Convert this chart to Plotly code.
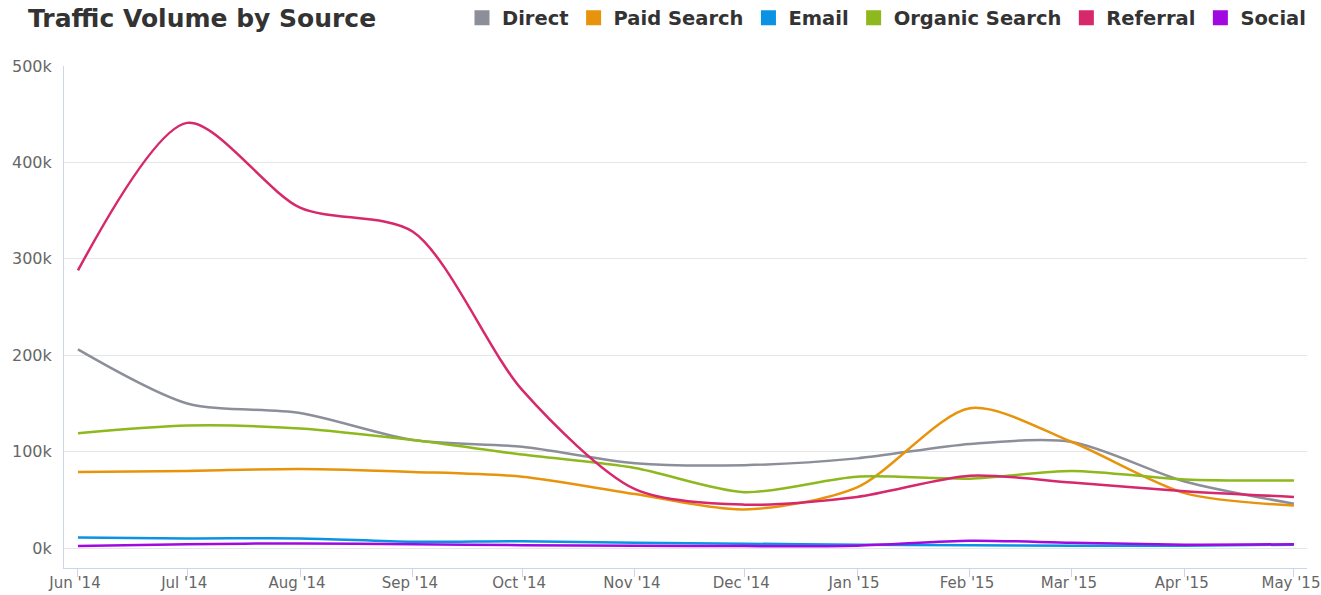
import plotly.graph_objects as go

months = ["2014-06-01", "2014-07-01", "2014-08-01", "2014-09-01", "2014-10-01", "2014-11-01",
          "2014-12-01", "2015-01-01", "2015-02-01", "2015-03-01", "2015-04-01", "2015-05-01"]
x_tick_labels = ["Jun '14", "Jul '14", "Aug '14", "Sep '14", "Oct '14", "Nov '14",
                 "Dec '14", "Jan '15", "Feb '15", "Mar '15", "Apr '15", "May '15"]

direct = [206000, 150000, 140000, 112000, 105000, 88000, 86000, 93000, 108000, 110000, 69000, 46000]
paid_search = [79000, 80000, 82000, 79000, 74000, 56000, 40000, 63000, 145000, 110000, 57000, 44000]
email = [11000, 10000, 10000, 6500, 7000, 5500, 4500, 3500, 2800, 2500, 2500, 3500]
organic_search = [119000, 127000, 124000, 112000, 97000, 83000, 58000, 74000, 72000, 80000, 71000, 70000]
referral = [288000, 441000, 353000, 328000, 164000, 61000, 45000, 53000, 75000, 68000, 59000, 53000]
social = [2000, 4000, 4800, 4000, 3000, 2500, 2000, 2500, 7600, 5500, 3500, 4000]

series_names = ["Direct", "Paid Search", "Email", "Organic Search", "Referral", "Social"]
series_values = [direct, paid_search, email, organic_search, referral, social]
colors = ["#8c8f9a", "#e8930c", "#0a92e4", "#8db81e", "#d6286a", "#a00ae0"]

y_ticks = [0, 100000, 200000, 300000, 400000, 500000]
y_tick_labels = ["0k", "100k", "200k", "300k", "400k", "500k"]

fig = go.Figure()

for name, vals, col in zip(series_names, series_values, colors):
    fig.add_trace(go.Scatter(
        x=months, y=vals, mode="lines", name=name, legendgroup=name,
        showlegend=False,
        line=dict(color=col, width=2.5, shape="spline", smoothing=0.8),
        hovertemplate="%{y:,}<extra>" + name + "</extra>",
    ))

for name, col in zip(series_names, colors):
    fig.add_trace(go.Scatter(
        x=[None], y=[None], mode="markers", name=name, legendgroup=name,
        marker=dict(symbol="square", size=15, color=col),
        showlegend=True,
    ))

fig.update_layout(
    width=1321, height=595,
    margin=dict(l=64, r=14, t=66, b=27),
    paper_bgcolor="white", plot_bgcolor="white",
    font=dict(family="DejaVu Sans", color="#666666"),
    title=dict(
        text="Traffic Volume by Source",
        font=dict(family="DejaVu Sans", size=25, color="#333333", weight="bold"),
        xref="container", yref="container", x=28 / 1321, xanchor="left",
        y=1 - 18 / 595, yanchor="middle",
    ),
    legend=dict(
        orientation="h", xref="container", yref="container",
        x=1 - 10 / 1321, xanchor="right", y=1 - 18 / 595, yanchor="middle",
        font=dict(family="DejaVu Sans", size=19.5, color="#333333", weight="bold"),
        bgcolor="rgba(0,0,0,0)",
    ),
    showlegend=True,
    xaxis=dict(
        type="date",
        range=["2014-05-28 04:00", "2015-05-04 14:00"],
        tickvals=months,
        ticktext=x_tick_labels,
        ticks="outside", ticklen=8, tickcolor="#ccd6eb", tickwidth=1,
        ticklabelstandoff=-7,
        ticklabelshift=-3,
        ticklabeloverflow="allow",
        showline=True, linecolor="#ccd6eb", linewidth=1,
        showgrid=False, zeroline=False,
        tickfont=dict(family="DejaVu Sans", size=15, color="#666666"),
        automargin=False,
    ),
    yaxis=dict(
        range=[-20700, 500000],
        tickvals=y_ticks, ticktext=y_tick_labels,
        showline=True, linecolor="#ccd6eb", linewidth=1,
        showgrid=True, gridcolor="#e6e6e6", gridwidth=1,
        zeroline=False, ticks="",
        ticklabelstandoff=8,
        tickfont=dict(family="DejaVu Sans", size=16, color="#666666"),
        automargin=False,
    ),
)

fig.write_html("out.html", config={"displayModeBar": False},
               post_script="document.body.style.margin='0';document.body.style.overflow='hidden';")
